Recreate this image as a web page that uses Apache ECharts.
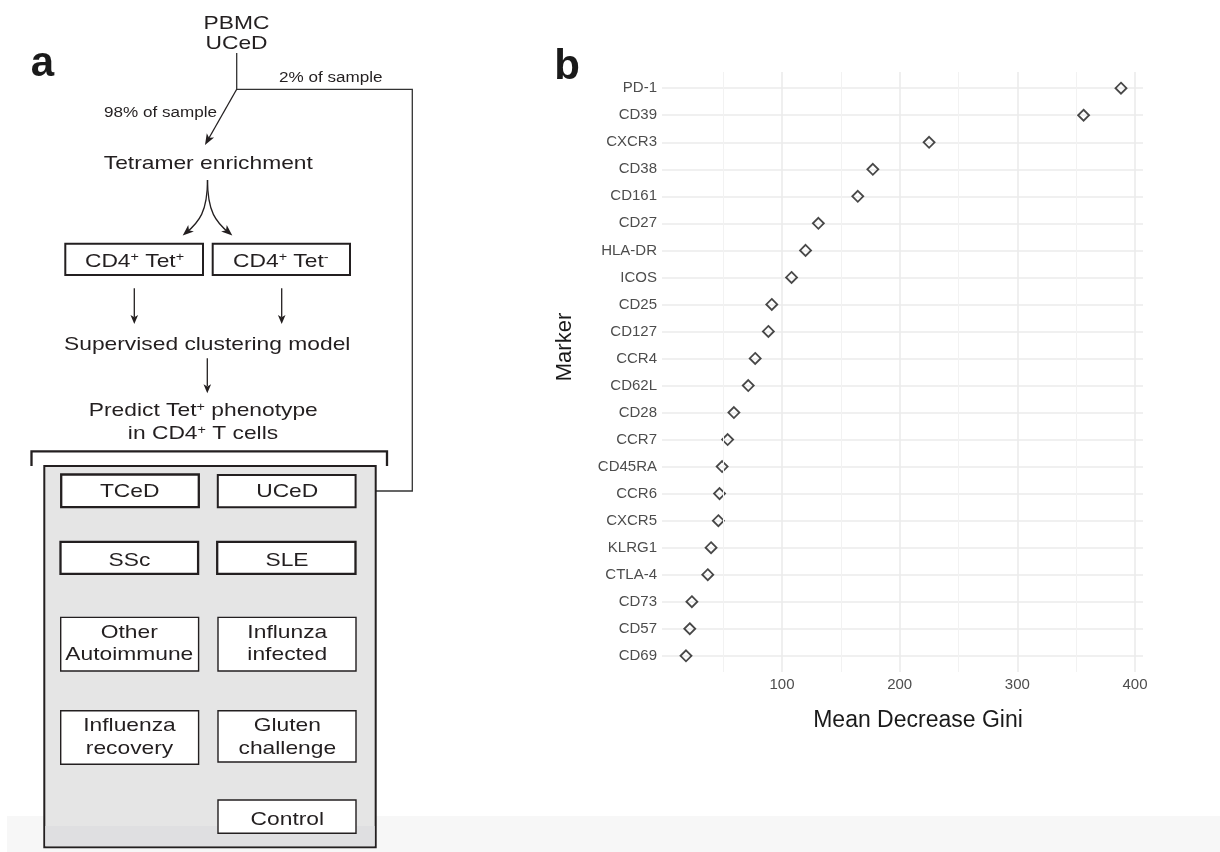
<!DOCTYPE html>
<html><head><meta charset="utf-8">
<script src="https://cdn.jsdelivr.net/npm/echarts@6/dist/echarts.min.js"></script>
<style>html,body{margin:0;padding:0;background:#fff}#c{width:1220px;height:852px}</style>
</head><body><div id="c"></div>
<script>
// ---------- data (panel b) ----------
const markers = ['PD-1','CD39','CXCR3','CD38','CD161','CD27','HLA-DR','ICOS','CD25','CD127','CCR4','CD62L','CD28','CCR7','CD45RA','CCR6','CXCR5','KLRG1','CTLA-4','CD73','CD57','CD69'];
const meanDecreaseGini = [388.1,356.3,225.0,177.2,164.4,130.9,120.0,108.1,91.3,88.4,77.2,71.3,59.1,53.8,49.1,46.9,45.9,39.7,36.9,23.4,21.6,18.4];
const xTickValues = [100,200,300,400];
const xMinorValues = [50,150,250,350];

// ---------- text (panel a) ----------
const sourceLines = ['PBMC','UCeD'];
const splitLabels = ['98% of sample','2% of sample'];
const cohortLabels = [['TCeD'],['UCeD'],['SSc'],['SLE'],['Other','Autoimmune'],['Influnza','infected'],['Influenza','recovery'],['Gluten','challenge'],['Control']];

const FONT = '"Liberation Sans", Arial, Helvetica, sans-serif';
const INK = '#231f20';
const G = [];
const DY = 1.6;

function txt(str, x, y, fs, sx, extra) {
  const st = Object.assign({text: str, fontSize: fs, fontFamily: FONT, fill: INK, align: 'center', verticalAlign: 'middle'}, extra || {});
  return {type: 'text', x: x, y: y + DY * fs / 19, scaleX: sx, silent: true, style: st};
}
function line(pts, w, col) {
  return {type: 'polyline', silent: true, shape: {points: pts}, style: {stroke: col || INK, lineWidth: w || 1.3, fill: null}};
}
function head(tx, ty, dx, dy, len, half, col) {
  const L = Math.sqrt(dx*dx + dy*dy); const ux = dx/L, uy = dy/L; const nx = -uy, ny = ux;
  const bx = tx - ux*len, by = ty - uy*len;
  const mx = tx - ux*len*0.75, my = ty - uy*len*0.75;
  return {type: 'polygon', silent: true, shape: {points: [[tx,ty],[bx+nx*half,by+ny*half],[mx,my],[bx-nx*half,by-ny*half]]}, style: {fill: col || INK, stroke: null}};
}
function box(x, y, w, h, lw, fill) {
  return {type: 'rect', silent: true, shape: {x: x, y: y, width: w, height: h}, style: {fill: fill || '#ffffff', stroke: INK, lineWidth: lw}};
}

// bottom strip
G.push({type: 'rect', silent: true, shape: {x: 7, y: 816, width: 1213, height: 36}, style: {fill: '#f7f7f7'}});

// panel label a
G.push(txt('a', 42.5, 61, 42, 1, {fontWeight: 'bold', fill: '#1a1a1a'}));
// source
G.push(txt(sourceLines[0], 236.5, 21.7, 19, 1.2));
G.push(txt(sourceLines[1], 236.5, 42, 19, 1.2));
// split lines
G.push(line([[236.7,53],[236.7,89.3],[412.3,89.3],[412.3,491],[368,491]], 1.3, '#333'));
G.push(head(361.5, 491, -1, 0, 10, 4.2, '#333'));
G.push(line([[236.7,89.3],[209,138]], 1.3));
G.push(head(205, 145, -31.7, 55.7, 11, 4.2));
G.push(txt(splitLabels[0], 160.5, 111.7, 14, 1.22));
G.push(txt(splitLabels[1], 330.8, 77.3, 14, 1.22));
// tetramer enrichment
G.push(txt('Tetramer enrichment', 208.3, 161.7, 19, 1.2));
// forked curve arrows
G.push({type: 'bezierCurve', silent: true, shape: {x1: 207.5, y1: 180, cpx1: 207.5, cpy1: 212, cpx2: 199, cpy2: 222, x2: 186, y2: 233}, style: {stroke: INK, lineWidth: 1.3, fill: null}});
G.push({type: 'bezierCurve', silent: true, shape: {x1: 207.5, y1: 180, cpx1: 207.5, cpy1: 212, cpx2: 216, cpy2: 222, x2: 229, y2: 233}, style: {stroke: INK, lineWidth: 1.3, fill: null}});
G.push(head(182.7, 235.5, -14, 12, 11, 4.3));
G.push(head(232.3, 235.5, 14, 12, 11, 4.3));
// CD4 boxes
G.push(box(65.3, 243.7, 137.7, 31.3, 2));
G.push(box(212.7, 243.7, 137.3, 31.3, 2));
const supRich = {s: {fontSize: 12, fontFamily: FONT, fill: INK, verticalAlign: 'top'}};
G.push(txt('CD4{s|+} Tet{s|+}', 134.5, 260, 19, 1.2, {rich: supRich}));
G.push(txt('CD4{s|+} Tet{s|-}', 280.8, 260, 19, 1.2, {rich: supRich}));
// down arrows
[[134.3],[281.7]].forEach(function (a) {
  G.push(line([[a[0],288.3],[a[0],317]], 1.3));
  G.push(head(a[0], 324, 0, 1, 9, 3.8));
});
G.push(txt('Supervised clustering model', 207.2, 343.3, 19, 1.2));
G.push(line([[207.3,358.3],[207.3,386]], 1.3));
G.push(head(207.3, 393.3, 0, 1, 9, 3.8));
G.push(txt('Predict Tet{s|+} phenotype', 203.3, 409.3, 19, 1.2, {rich: supRich}));
G.push(txt('in CD4{s|+} T cells', 203, 432.3, 19, 1.2, {rich: supRich}));
// bracket
G.push(line([[31.5,466],[31.5,451.3],[387,451.3],[387,466]], 2.3));
// grey container
G.push(box(44.3, 466, 331.4, 381.3, 2, '#e5e5e5'));
G.push({type: 'rect', silent: true, shape: {x: 45.3, y: 826, width: 329.4, height: 20.3}, style: {fill: '#dfdfe1'}});
// cohort boxes
const cb = [
  [61.2, 474.5, 137.6, 32.6, 2.3, 129.7, [490]],
  [217.8, 475.1, 137.8, 32.1, 2.0, 287.2, [490]],
  [60.5, 541.9, 137.6, 31.9, 2.3, 129.5, [559]],
  [217.2, 541.9, 138.3, 31.9, 2.3, 287, [559]],
  [60.7, 617.4, 137.9, 53.6, 1.4, 129.3, [630.7, 653.3]],
  [218, 617.4, 138, 53.6, 1.4, 287.3, [630.7, 653.3]],
  [60.7, 710.7, 137.9, 53.6, 1.4, 129.5, [724, 747.3]],
  [218, 710.7, 138, 51.3, 1.4, 287.3, [724, 747.3]],
  [218, 800, 138, 33.3, 1.4, 287.3, [817.7]]
];
cb.forEach(function (b, i) {
  G.push(box(b[0], b[1], b[2], b[3], b[4]));
  cohortLabels[i].forEach(function (s, j) { G.push(txt(s, b[5], b[6][j], 19, 1.2)); });
});

// panel b labels
G.push(txt('b', 567, 63.5, 42, 1, {fontWeight: 'bold', fill: '#1a1a1a'}));
G.push(txt('Mean Decrease Gini', 918, 719, 23, 1, {fill: '#1a1a1a'}));
G.push({type: 'text', x: 565, y: 347, rotation: Math.PI / 2, silent: true, style: {text: 'Marker', fontSize: 22, fontFamily: FONT, fill: '#1a1a1a', align: 'center', verticalAlign: 'middle'}});

const idx = markers.map(function (m, i) { return i; });

const option = {
  animation: false,
  backgroundColor: '#ffffff',
  grid: {left: 662, right: 77, top: 72, bottom: 180, containLabel: false, outerBoundsMode: 'none'},
  xAxis: {
    type: 'value', min: -2, max: 406.8,
    axisLine: {show: false},
    axisTick: {show: false, customValues: xTickValues},
    axisLabel: {customValues: xTickValues, color: '#4d4d4d', fontSize: 15, fontFamily: FONT, margin: 5},
    splitLine: {show: true, lineStyle: {color: '#ebebeb', width: 1.6}}
  },
  yAxis: {
    type: 'value', inverse: true, min: -0.6, max: markers.length - 1 + 0.6,
    axisLine: {show: false},
    axisTick: {show: false, customValues: idx},
    axisLabel: {customValues: idx, color: '#4d4d4d', fontSize: 15, fontFamily: FONT, margin: 5,
      formatter: function (v) { return markers[Math.round(v)]; }},
    splitLine: {show: true, lineStyle: {color: '#ebebeb', width: 1.6}}
  },
  series: [
    {type: 'line', data: [], z: 1, silent: true,
      markLine: {silent: true, symbol: ['none','none'], label: {show: false}, animation: false,
        lineStyle: {type: 'solid', color: '#f2f2f2', width: 1},
        emphasis: {disabled: true},
        data: xMinorValues.map(function (v) { return {xAxis: v}; })}},
    {type: 'scatter', z: 3, silent: true, symbol: 'diamond', symbolSize: [11, 11],
      itemStyle: {color: 'rgba(255,255,255,0)', borderColor: '#1a1a1a', borderWidth: 1.8},
      data: meanDecreaseGini.map(function (v, i) { return [v, i]; })}
  ],
  graphic: {elements: G}
};
const chart = echarts.init(document.getElementById('c'), null, {renderer: 'canvas'});
chart.setOption(option);
</script></body></html>
